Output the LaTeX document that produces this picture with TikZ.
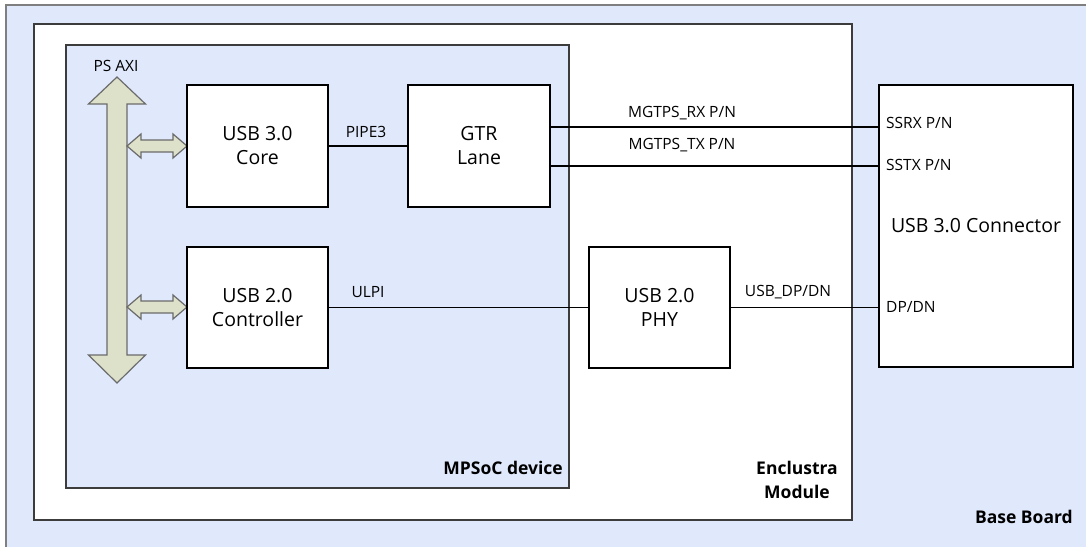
\documentclass[tikz,border=0pt]{standalone}
\usepackage{fontspec}
\setmainfont{Open Sans}
\definecolor{bluebg}{HTML}{E0E8FC}
\definecolor{arrowfill}{HTML}{DDE1C9}
\definecolor{arrowline}{HTML}{6B6B6B}
\definecolor{boardline}{HTML}{7F7F7F}
\definecolor{moduleline}{HTML}{3C3C3C}
\begin{document}
\begin{tikzpicture}[x=1pt,y=-1pt]
\tikzset{
  blk/.style={draw=black, line width=1.4pt, fill=white, align=center,
    font=\fontsize{19.5}{24}\selectfont, inner sep=0pt},
  lbl/.style={font=\fontsize{15.5}{18}\selectfont, inner sep=0pt},
  boldlbl/.style={font=\fontsize{17.5}{24}\selectfont\bfseries, inner sep=0pt, align=center},
  wire/.style={draw=black, line width=1.3pt},
  busarrow/.style={fill=arrowfill, draw=arrowline, line width=1.2pt, line join=miter}
}
\useasboundingbox (0,0) rectangle (1086,546);
% Base board
\fill[bluebg] (6,5) rectangle (1092,552);
\draw[boardline, line width=2.5pt] (6,552) -- (6,5) -- (1092,5);
% Enclustra module
\draw[moduleline, line width=1.5pt, fill=white] (34,24) rectangle (852,520);
% MPSoC device
\draw[moduleline, line width=1.3pt, fill=bluebg] (66,45) rectangle (569,488);

% PS AXI bus arrow
\draw[busarrow] (117,77) -- (145.5,104) -- (127,104) -- (127,355) -- (145.5,355) -- (117,383)
  -- (88.5,355) -- (107,355) -- (107,104) -- (88.5,104) -- cycle;
\draw[busarrow] (127,146) -- (141,134) -- (141,140) -- (173,140) -- (173,134) -- (187,146)
  -- (173,158) -- (173,152) -- (141,152) -- (141,158) -- cycle;
\draw[busarrow] (127,307) -- (141,295) -- (141,301) -- (173,301) -- (173,295) -- (187,307)
  -- (173,319) -- (173,313) -- (141,313) -- (141,319) -- cycle;
\node[lbl] (psaxi) at (116,66) {PS AXI};

% Blocks
\node[blk, minimum width=141pt, minimum height=122pt] (core) at (257.5,146) {USB 3.0\\Core};
\node[blk, minimum width=141pt, minimum height=121pt] (ctrl) at (257.5,307.5) {USB 2.0\\Controller};
\node[blk, minimum width=142pt, minimum height=122pt] (gtr) at (479,146) {GTR\\Lane};
\node[blk, minimum width=141pt, minimum height=121pt] (phy) at (659.5,307.5) {USB 2.0\\PHY};
\node[blk, minimum width=194pt, minimum height=282pt] (conn) at (976,226) {USB 3.0 Connector};

% Wires
\coordinate (rx) at (700,127);
\coordinate (tx) at (700,166);
\draw[wire] (core.east) -- (gtr.west);
\draw[wire] (gtr.east |- rx) -- (rx -| conn.west);
\draw[wire] (gtr.east |- tx) -- (tx -| conn.west);
\draw[wire] (ctrl.east) -- (phy.west);
\draw[wire] (phy.east) -- (phy.east -| conn.west);

% Wire labels
\node[lbl] (pipe) at (366,132) {PIPE3};
\node[lbl] (ulpi) at (368,292) {ULPI};
\node[lbl] (mgrx) at (682,113) {MGTPS\_RX P/N};
\node[lbl] (mgtx) at (682,145) {MGTPS\_TX P/N};
\node[lbl] (usbdp) at (788,292) {USB\_DP/DN};
\node[lbl, anchor=west] (ssrx) at (886,123) {SSRX P/N};
\node[lbl, anchor=west] (sstx) at (886,165) {SSTX P/N};
\node[lbl, anchor=west] (dpdn) at (886,307) {DP/DN};

% Region labels
\node[boldlbl, anchor=east] (mpsoc) at (563,468) {MPSoC device};
\node[boldlbl] (encl) at (797,480) {Enclustra\\Module};
\node[boldlbl, anchor=east] (base) at (1073,517) {Base Board};
\end{tikzpicture}
\end{document}
